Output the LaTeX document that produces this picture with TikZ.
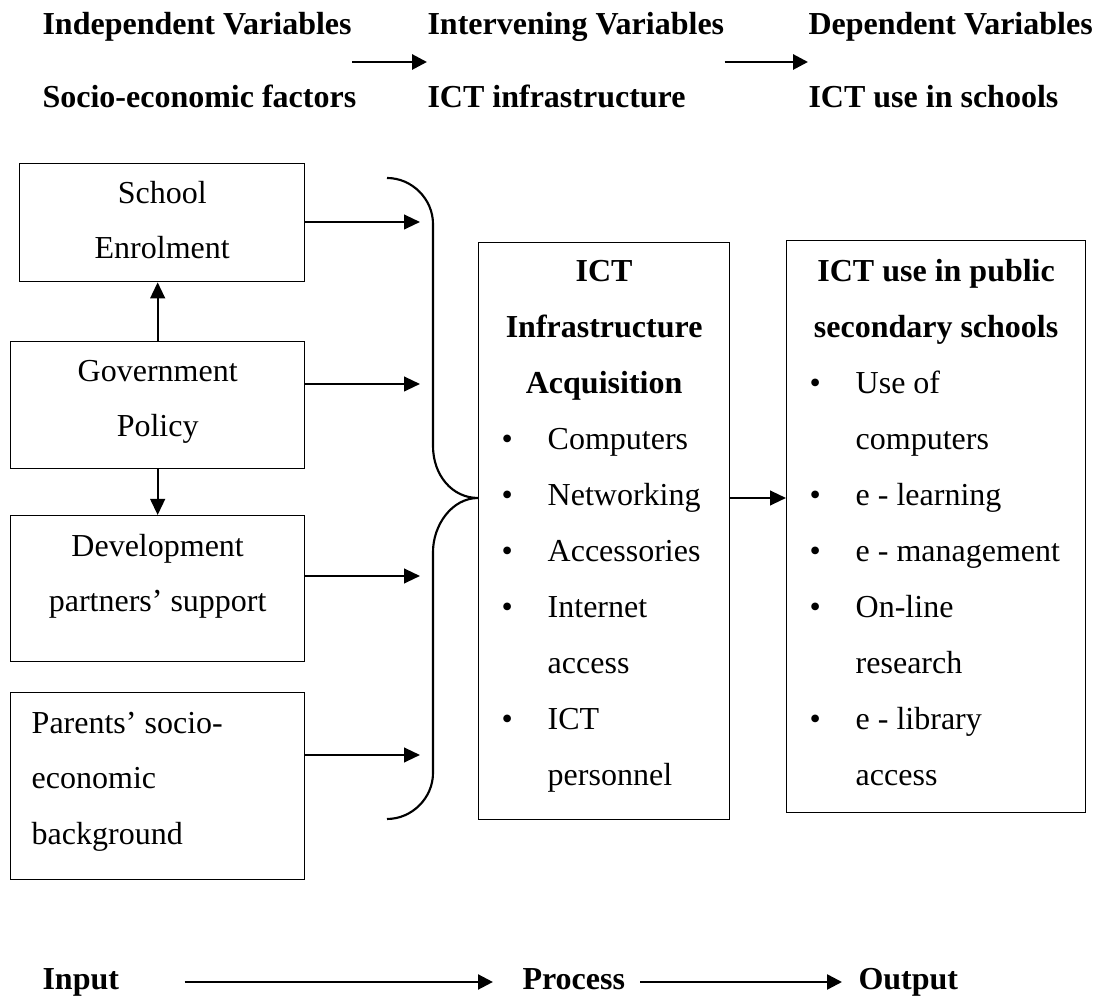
\documentclass[tikz,border=0pt]{standalone}
\usepackage{fontspec}
\setmainfont{Liberation Serif}
\usetikzlibrary{arrows.meta}

% bullet line and continuation line inside the list boxes
\newcommand{\bitem}{\hspace*{8.6pt}\makebox[17.3pt][l]{\textbullet}}
\newcommand{\bcont}{\hspace*{25.9pt}}

\begin{document}
\begin{tikzpicture}[x=0.375pt, y=-0.375pt,
    >={Triangle[length=6pt, width=5.5pt]},
    every node/.style={font=\fontsize{12pt}{14pt}\selectfont, inner sep=0pt},
    head/.style={font=\fontsize{12pt}{14pt}\selectfont\bfseries, anchor=base west},
    box/.style={draw, line width=0.5pt, anchor=north west, font=\fontsize{12pt}{20.7pt}\selectfont,
        execute at begin node={\spaceskip=0pt\xspaceskip=0pt}},
    list/.style={box, font=\fontsize{12pt}{21pt}\selectfont},
    link/.style={->, line width=0.8pt},
    bold link/.style={->, line width=1.1pt, >={Triangle[length=5.6pt, width=5.6pt]}}]

    \useasboundingbox (0,0) rectangle (1108,996);

    % Column headings
    \node[head] (indep) at (42,35) {Independent Variables};
    \node[head] (interv) at (427,35) {Intervening Variables};
    \node[head] (dep) at (808,35) {Dependent Variables};
    \node[head] (socio) at (42,108) {Socio-economic factors};
    \node[head] (infra) at (427,108) {ICT infrastructure};
    \node[head] (usage) at (808,108) {ICT use in schools};

    \coordinate (gap) at (0,62);
    \draw[bold link] (indep.east |- gap) -- (interv.west |- gap);
    \draw[bold link] (interv.east |- gap) -- (dep.west |- gap);

    % Input boxes
    \node[box, text width=106.9pt, text height=15pt, text depth=29.25pt]
        (school) at (19,163) {{\centering School\\Enrolment\par}};
    \node[box, text width=110.25pt, text height=15pt, text depth=32.6pt]
        (gov) at (10,341) {{\centering Government\\Policy\par}};
    \node[box, text width=110.25pt, text height=15.4pt, text depth=39.4pt]
        (dev) at (10,515) {{\centering Development\\partners’ support\par}};
    \node[box, inner xsep=7.9pt, text width=94.45pt, text height=15.4pt, text depth=54.75pt]
        (parents) at (10,692) {\raggedright Parents’ socio-\\economic\\background};

    \draw[link] (gov.north) -- (gov.north |- school.south);
    \draw[link] (gov.south) -- (gov.south |- dev.north);

    % Arrows into the brace
    \coordinate (in1) at (420,222);
    \coordinate (in2) at (420,384);
    \coordinate (in3) at (420,576);
    \coordinate (in4) at (420,755);
    \draw[link] (school.east |- in1) -- (in1);
    \draw[link] (gov.east |- in2) -- (in2);
    \draw[link] (dev.east |- in3) -- (in3);
    \draw[link] (parents.east |- in4) -- (in4);

    % Brace
    \coordinate (hub) at (478,498);
    \draw[line width=0.8pt] (387,178) .. controls (412,178) and (433,199) .. (433,224)
        -- (433,446) .. controls (433,475) and (452,498) .. (hub)
        .. controls (452,498) and (433,525) .. (433,552)
        -- (433,773) .. controls (433,798) and (412,819) .. (387,819);

    % Process box
    \node[list, text width=94.1pt, text height=14.6pt, text depth=201.75pt] (acq) at (478,242) {%
        {\centering\bfseries ICT\\Infrastructure\\Acquisition\par}
        \raggedright
        \bitem Computers\\
        \bitem Networking\\
        \bitem Accessories\\
        \bitem Internet\\
        \bcont access\\
        \bitem ICT\\
        \bcont personnel};

    % Output box
    \node[list, text width=112.1pt, text height=15.4pt, text depth=199.1pt] (ictuse) at (786,240) {%
        {\centering\bfseries ICT use in public\\secondary schools\par}
        \raggedright
        \bitem Use of\\
        \bcont computers\\
        \bitem e - learning\\
        \bitem e - management\\
        \bitem On-line\\
        \bcont research\\
        \bitem e - library\\
        \bcont access};

    \draw[link] (hub -| acq.east) -- (hub -| ictuse.west);

    % Input - process - output
    \node[head, text height=8pt, text depth=2pt] (input) at (42,990) {Input};
    \node[head, text height=8pt, text depth=2pt] (process) at (522,990) {Process};
    \node[head, text height=8pt, text depth=2pt] (output) at (858,990) {Output};

    \draw[bold link, line width=0.9pt, shorten <=24.4pt, shorten >=10.9pt] (input) -- (process);
    \draw[bold link, line width=0.9pt, shorten <=5.6pt, shorten >=6pt] (process) -- (output);

    \end{tikzpicture}
\end{document}
